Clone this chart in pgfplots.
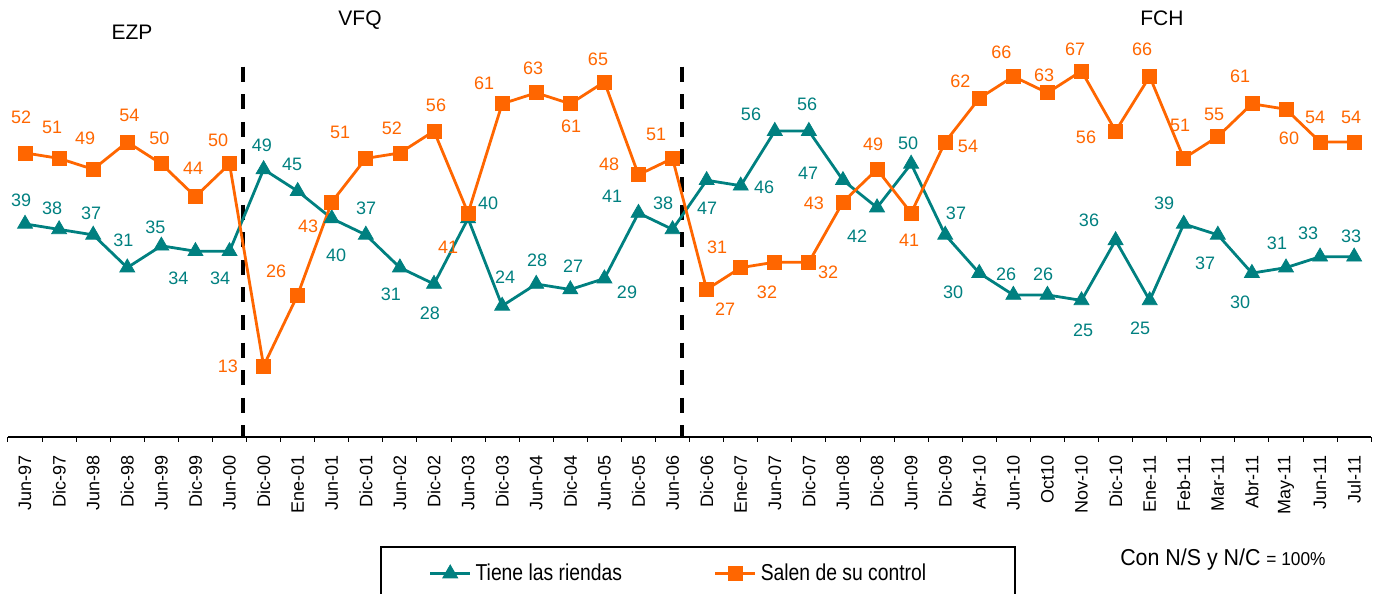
\documentclass[border=0pt]{standalone}
\usepackage{graphicx}
\usepackage{pgfplots}
\pgfplotsset{compat=1.18}
\usepackage{pgfplotstable}
\usepackage{fontspec}
\setmainfont{Liberation Sans}
\definecolor{tealc}{RGB}{0,128,128}
\definecolor{orangec}{RGB}{255,102,0}

\pgfplotstableread{
x v dx dy
0 39 -4 24
1 38 -7 21.5
2 37 -2 22
3 31 -4 27.7
4 35 -6 18
5 34 -17 -26.6
6 34 -9.5 -26.6
7 49 -1.6 24.5
8 45 -5.6 26.3
9 40 4.3 -36.4
10 37 0.2 27
11 31 -9 -26.3
12 28 -4 -29
13 40 20 15.6
14 24 3 29
15 28 0.8 24
16 27 2.7 23.6
17 29 22.6 -13.3
18 41 -26.4 17
19 38 -9.5 26.5
20 47 0.4 -27.6
21 46 23.3 -1.2
22 56 -23.8 17.2
23 56 -1.8 27.2
24 47 -34.9 7.4
25 42 -20 -28.3
26 50 -3 21
27 37 10.8 22
28 30 -26.2 -18.8
29 26 -7.3 21
30 26 -4.4 21
31 25 1.5 -29.5
32 36 -26.6 20.4
33 25 -9.6 -27.5
34 39 -19.7 21
35 37 -12.8 -28
36 30 -11.9 -28.8
37 31 -9 24.7
38 33 -12 23.8
39 33 -3 20.8
}\tealdata

\pgfplotstableread{
x v dx dy
0 52 -4 36
1 51 -7 31.5
2 49 -8 31.5
3 54 2 27
4 50 -2 26
5 44 -2.4 28.8
6 50 -11.5 24
7 13 -35.6 0
8 26 -21.6 24
9 43 -23.7 -23.8
10 51 -25.8 26.5
11 52 -8 25
12 56 2 26
13 41 -20 -34
14 61 -18 20
15 63 -3 25
16 61 0.7 -23
17 65 -6.4 23
18 48 -29.4 10
19 51 -16.5 24.5
20 27 18.4 -19.4
21 31 -23.7 20.7
22 32 -7.8 -29.7
23 32 19.2 -9.7
24 43 -29 -0.8
25 49 -4 25.5
26 41 -2 -27
27 54 22.8 -4.8
28 62 -19 17.5
29 66 -12 24.6
30 63 -3.4 18
31 67 -6.5 22
32 56 -29.6 -5.8
33 66 -7.6 27.6
34 51 -3.7 33.5
35 55 -3.8 21.7
36 61 -11.9 27
37 60 3 -28.6
38 54 -5 25
39 54 -3 25
}\orangedata

\begin{document}
\begin{tikzpicture}
\begin{axis}[name=ax, scale only axis, width=681.6pt, height=218.5pt,
  xmin=-0.5, xmax=39.5, ymin=0, ymax=80, clip=false,
  axis x line*=bottom, axis y line=none,
  axis line style={black, line width=0.6pt},
  xtick={0,...,39},
  xticklabels={Jun-97,Dic-97,Jun-98,Dic-98,Jun-99,Dic-99,Jun-00,Dic-00,Ene-01,Jun-01,Dic-01,Jun-02,Dic-02,Jun-03,Dic-03,Jun-04,Dic-04,Jun-05,Dic-05,Jun-06,Dic-06,Ene-07,Jun-07,Dic-07,Jun-08,Dic-08,Jun-09,Dic-09,Abr-10,Jun-10,Oct10,Nov-10,Dic-10,Ene-11,Feb-11,Mar-11,Abr-11,May-11,Jun-11,Jul-11},
  major tick length=0pt,
  minor xtick={-0.5,0.5,...,39.5},
  minor tick length=2.5pt,
  tick align=outside,
  tick style={black, line width=0.5pt},
  xticklabel style={rotate=90, anchor=east, inner sep=0pt, font=\fontsize{9}{10}\selectfont},
  xticklabel shift=9pt,
  legend columns=2,
  legend cell align=left,
  legend image code/.code={\draw[mark repeat=2, mark phase=2] plot coordinates {(0pt,0pt) (10pt,0pt) (20pt,0pt)};},
  legend style={at={(axis description cs:0.2729,-0.2494)}, anchor=north west, draw=black, line width=0.8pt, font=\fontsize{11.5}{13}\selectfont, inner xsep=24pt, inner ysep=6.5pt, /tikz/every even column/.append style={column sep=44pt}},
]
\addplot[forget plot, black, line width=2pt, dash pattern=on 7.5pt off 6.3pt] coordinates {(6.4,67.8) (6.4,0)};
\addplot[forget plot, black, line width=2pt, dash pattern=on 7.5pt off 6.3pt] coordinates {(19.27,67.8) (19.27,0)};

\addplot[color=tealc, line width=1.4pt, mark=triangle*, mark size=4.3pt, mark options={solid, line width=0.4pt, fill=tealc},
  nodes near coords={\pgfplotspointmeta}, point meta=explicit symbolic,
  visualization depends on={\thisrow{dx} \as \dx},
  visualization depends on={\thisrow{dy} \as \dy},
  every node near coord/.append style={anchor=center, inner sep=0pt, xshift=\dx*0.5pt, yshift=\dy*0.5pt, text=tealc, font=\fontsize{9}{10}\selectfont}]
  table[x=x, y=v, meta=v] {\tealdata};
\addlegendentry{\scalebox{0.84}[1]{Tiene las riendas}}

\addplot[color=orangec, line width=1.4pt, mark=square*, mark size=3.5pt, mark options={solid, line width=0.4pt, fill=orangec},
  nodes near coords={\pgfplotspointmeta}, point meta=explicit symbolic,
  visualization depends on={\thisrow{dx} \as \dx},
  visualization depends on={\thisrow{dy} \as \dy},
  every node near coord/.append style={anchor=center, inner sep=0pt, xshift=\dx*0.5pt, yshift=\dy*0.5pt, text=orangec, font=\fontsize{9}{10}\selectfont}]
  table[x=x, y=v, meta=v] {\orangedata};
\addlegendentry{\scalebox{0.84}[1]{Salen de su control}\rule{18.5pt}{0pt}}

\node[font=\fontsize{10.5}{12}\selectfont] at (axis cs:3.14,74) {EZP};
\node[font=\fontsize{10.5}{12}\selectfont] at (axis cs:9.83,76.4) {VFQ};
\node[font=\fontsize{10.5}{12}\selectfont] at (axis cs:33.36,76.7) {FCH};
\node[font=\fontsize{11.5}{13}\selectfont] at (axis cs:35.15,-22.5) {\scalebox{0.93}[1]{Con N/S y N/C {\fontsize{9.3}{11}\selectfont = 100\%}}};
\end{axis}
\pgfresetboundingbox
\path[use as bounding box] ([xshift=-4pt,yshift=-78.5pt]ax.south west) rectangle ([xshift=2.9pt]ax.north east);
\end{tikzpicture}
\end{document}
